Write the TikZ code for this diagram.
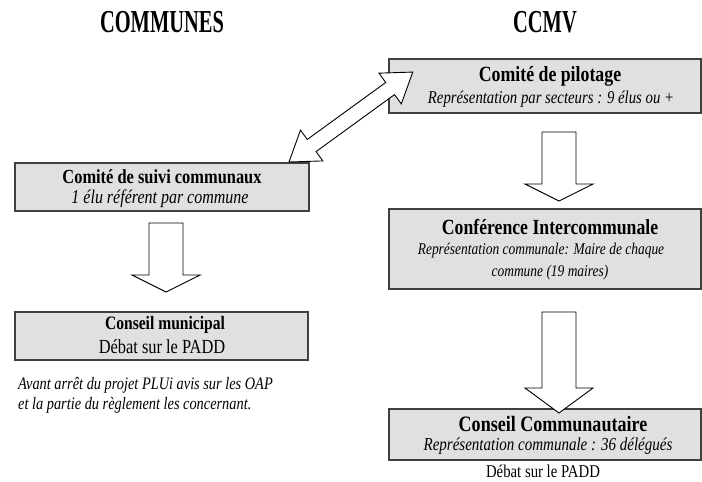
\documentclass[tikz,border=0pt]{standalone}
\usepackage{fontspec}
\usepackage{graphicx}
\setmainfont{Liberation Serif}[FakeStretch=0.82]
\begin{document}
\begin{tikzpicture}[x=1pt,y=-1pt,
  box/.style={draw=black!75, line width=1.1pt, fill=black!12, inner sep=0pt},
  blk/.style={draw=black, line width=0.9pt, fill=white, line join=miter},
  ttl/.style={font=\fontsize{32}{34}\selectfont\bfseries, inner sep=0pt},
  hd/.style={inner sep=0pt, font=\bfseries},
  it/.style={inner sep=0pt, font=\itshape},
  tx/.style={inner sep=0pt}]
\useasboundingbox (0,0) rectangle (702,482);

% titles
\node[ttl] (tcom) at (162,22) {\scalebox{0.78}[1]{COMMUNES}};
\node[ttl] (tccmv) at (545,22) {\scalebox{0.78}[1]{CCMV}};

% boxes
\node[box, minimum width=294pt, minimum height=48pt] (suivi) at (162,187) {};
\node[box, minimum width=312pt, minimum height=54pt] (pilot) at (545,86) {};
\node[box, minimum width=312pt, minimum height=80pt] (conf) at (545,249) {};
\node[box, minimum width=293pt, minimum height=48pt] (munic) at (161.5,336) {};
\node[box, minimum width=312pt, minimum height=51pt] (commu) at (545,434.5) {};

% texts
\node[hd, font=\fontsize{20}{22}\selectfont\bfseries] (suivi1) at (162,177) {Comité de suivi communaux};
\node[it, font=\fontsize{19.5}{22}\selectfont\itshape] (suivi2) at (160,199) {1 élu référent par commune};

\node[hd, font=\fontsize{21.7}{23}\selectfont\bfseries] (pilot1) at (550,76) {Comité de pilotage};
\node[it, font=\fontsize{18}{20}\selectfont\itshape] (pilot2) at (551,99) {Représentation par secteurs : 9 élus ou +};

\node[hd, font=\fontsize{21.6}{23}\selectfont\bfseries] (conf1) at (550,227) {Conférence Intercommunale};
\node[it, font=\fontsize{16.4}{18}\selectfont\itshape] (conf2) at (541,251) {Représentation communale: Maire de chaque};
\node[it, font=\fontsize{16.4}{18}\selectfont\itshape] (conf3) at (550,273) {commune (19 maires)};

\node[hd, font=\fontsize{19}{21}\selectfont\bfseries] (munic1) at (165,325) {Conseil municipal};
\node[tx, font=\fontsize{20}{22}\selectfont] (munic2) at (162,347) {Débat sur le PADD};
\node[it, font=\fontsize{17.5}{19}\selectfont\itshape, anchor=west] (note1) at (18,385) {Avant arrêt du projet PLUi avis sur les OAP};
\node[it, font=\fontsize{17.5}{19}\selectfont\itshape, anchor=west] (note2) at (18,405) {et la partie du règlement les concernant.};

\node[hd, font=\fontsize{22}{24}\selectfont\bfseries] (commu1) at (553,424) {Conseil Communautaire};
\node[it, font=\fontsize{18.3}{20}\selectfont\itshape] (commu2) at (548,446) {Représentation communale : 36 délégués};
\node[tx, font=\fontsize{18}{20}\selectfont] (commu3) at (543,471) {Débat sur le PADD};

% block arrows down: cx, top, headstart, tip
\newcommand{\blkdown}[4]{%
  \draw[blk] ({#1-17},#2) -- ({#1+17},#2) -- ({#1+17},#3) -- ({#1+34},#3)
    -- (#1,#4) -- ({#1-34},#3) -- ({#1-17},#3) -- cycle;}
\blkdown{166}{223}{275}{292}
\blkdown{559}{132}{184}{201}
\blkdown{559}{312}{388}{413}

% double arrow between suivi and pilot
\coordinate (dA) at (289,162);
\begin{scope}[shift={(dA)}, rotate=36]
  \draw[blk] (0,0) -- (28,19) -- (28,7.5) -- (125,7.5) -- (125,19) -- (153,0)
    -- (125,-19) -- (125,-7.5) -- (28,-7.5) -- (28,-19) -- cycle;
\end{scope}
\end{tikzpicture}
\end{document}
